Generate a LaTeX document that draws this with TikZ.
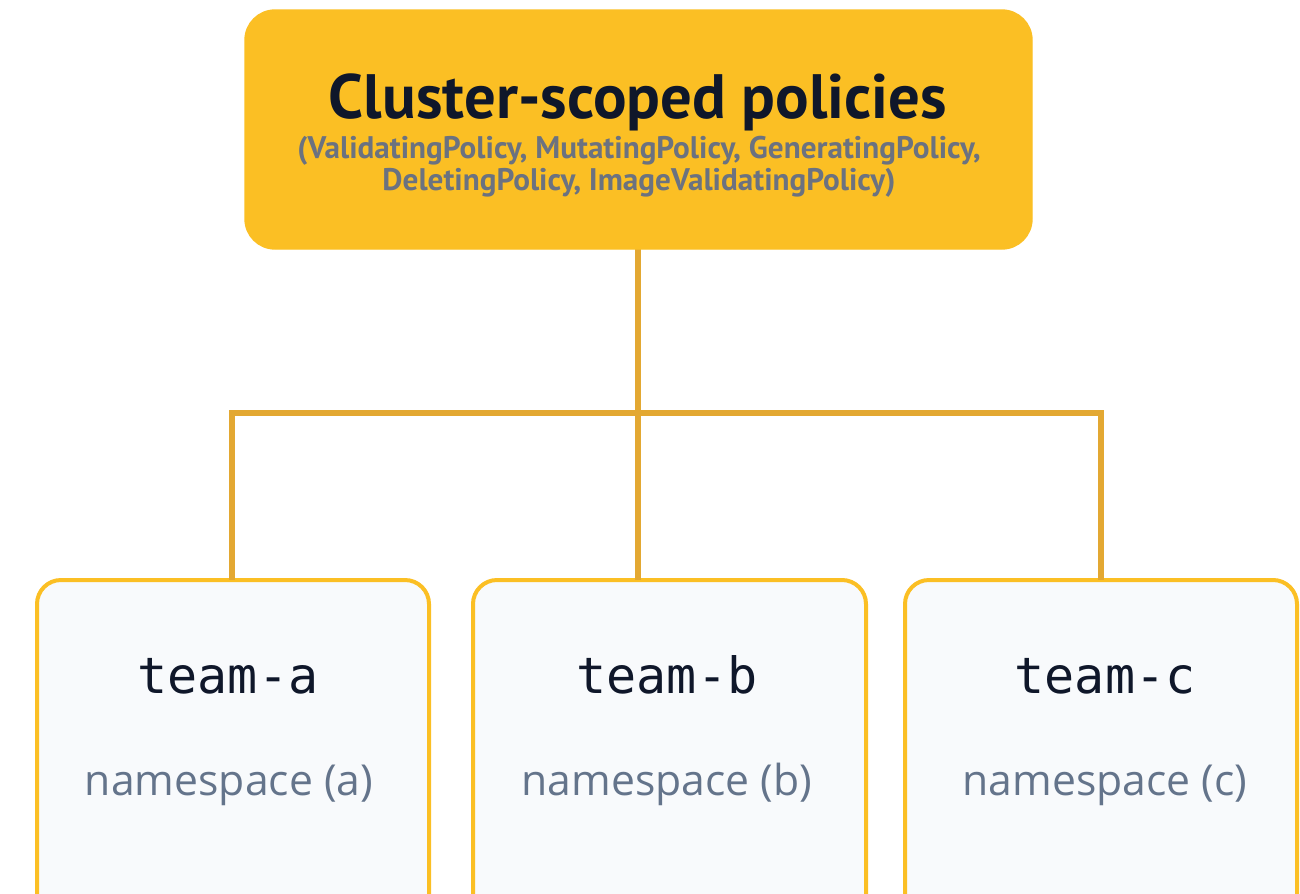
\documentclass[tikz,border=0pt]{standalone}
\usepackage{fontspec}
\setmainfont{Open Sans}
\newfontfamily\titlefont{PT Sans}
\newfontfamily\monofont{DejaVu Sans Mono}
\definecolor{gold}{HTML}{FBBF24}
\definecolor{wire}{HTML}{E3A832}
\definecolor{ink}{HTML}{0F172A}
\definecolor{subgray}{HTML}{6B7280}
\definecolor{nsgray}{HTML}{64748B}
\definecolor{paper}{HTML}{F8FAFC}
\tikzset{
  topbox/.style={draw=gold, fill=gold, rounded corners=22.5pt, line width=1pt},
  teambox/.style={draw=gold, fill=paper, rounded corners=18pt, line width=3pt},
  wireline/.style={draw=wire, line width=4.5pt},
  lbl/.style={inner sep=0pt, anchor=base},
}
\begin{document}
\begin{tikzpicture}[x=0.75pt, y=-0.75pt]
\useasboundingbox (0,0) rectangle (1300,893);
% connectors
\coordinate (hub) at (638,413);
\coordinate (hl) at (232,413);
\coordinate (hr) at (1101,413);
\draw[wireline] (638,249) -- (hub);
\draw[wireline, line cap=rect] (hl) -- (hr);
% top box
\filldraw[topbox] (245,10) rectangle (1032,249);
\node[lbl, text=ink] (title) at (638,118) {\titlefont\fontsize{47}{52}\selectfont\bfseries Cluster-scoped policies};
\node[lbl, text=subgray] (sub1) at (639,158) {\titlefont\fontsize{23.4}{26}\selectfont\bfseries (ValidatingPolicy, MutatingPolicy, GeneratingPolicy,};
\node[lbl, text=subgray] (sub2) at (639,190) {\titlefont\fontsize{23.4}{26}\selectfont\bfseries DeletingPolicy, ImageValidatingPolicy)};
% team boxes
\draw[teambox] (37,580) rectangle (429,920);
\draw[teambox] (473,580) rectangle (866,920);
\draw[teambox] (905,580) rectangle (1297,920);
\coordinate (ta) at (232,580);
\coordinate (tb) at (638,580);
\coordinate (tc) at (1101,580);
\draw[wireline] (hl) -- (ta);
\draw[wireline] (hub) -- (tb);
\draw[wireline] (hr) -- (tc);
\node[lbl, text=ink] (na) at (228,693) {\monofont\fontsize{37.5}{40}\selectfont team-a};
\node[lbl, text=ink] (nb) at (667,693) {\monofont\fontsize{37.5}{40}\selectfont team-b};
\node[lbl, text=ink] (nc) at (1105,693) {\monofont\fontsize{37.5}{40}\selectfont team-c};
\node[lbl, text=nsgray] (sa) at (229,795) {\fontsize{32}{36}\selectfont namespace (a)};
\node[lbl, text=nsgray] (sb) at (667,795) {\fontsize{32}{36}\selectfont namespace (b)};
\node[lbl, text=nsgray] (sc) at (1105,795) {\fontsize{32}{36}\selectfont namespace (c)};
\end{tikzpicture}
\end{document}
